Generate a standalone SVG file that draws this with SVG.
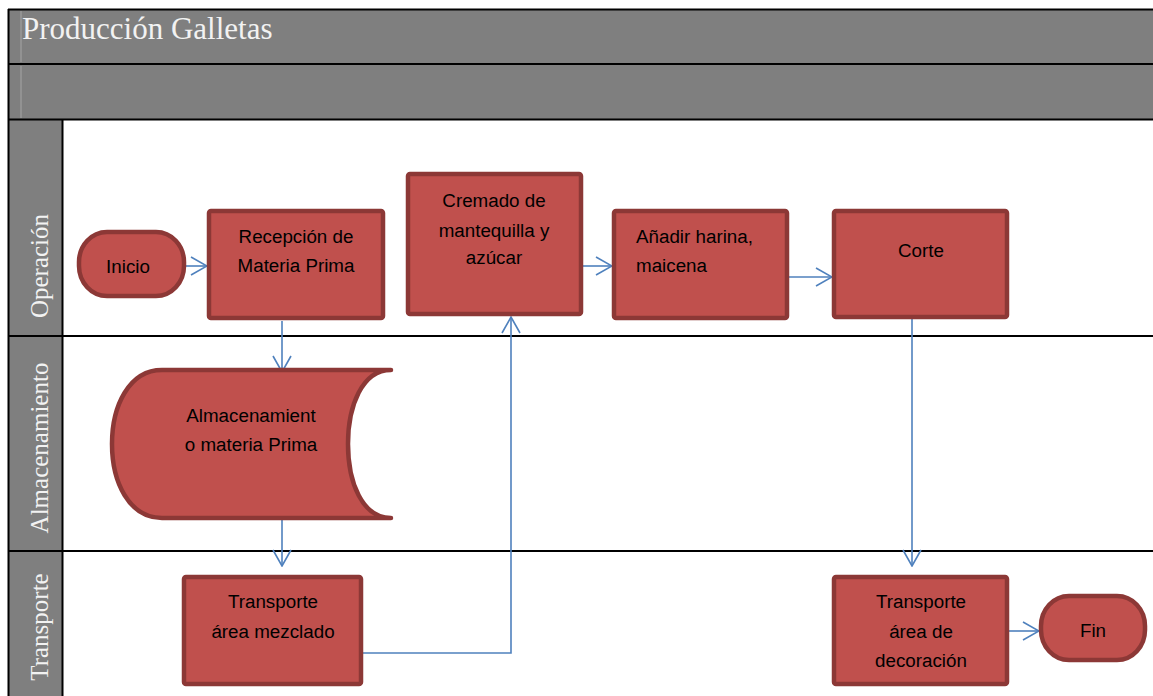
<svg xmlns="http://www.w3.org/2000/svg" width="1153" height="696" viewBox="0 0 1153 696">
  <style>
    .band { fill: #7f7f7f; }
    .rule { stroke: #000; stroke-width: 2; fill: none; }
    .faint { stroke: #a6a6a6; stroke-width: 1; }
    .title { font-family: "Liberation Serif", "Times New Roman", serif; font-size: 31px; fill: #f2f2f2; }
    .lane { font-family: "Liberation Serif", "Times New Roman", serif; font-size: 25px; fill: #f2f2f2; text-anchor: middle; }
    .shape { fill: #c0504d; stroke: #8c3836; stroke-width: 4.5; stroke-linejoin: round; }
    .label { font-family: "Liberation Sans", Arial, sans-serif; font-size: 18.8px; fill: #000; text-anchor: middle; }
    .left { text-anchor: start; }
    .flow { fill: none; stroke: #4f81bd; stroke-width: 1.6; marker-end: url(#arrow); }
  </style>
  <defs>
    <marker id="arrow" markerUnits="userSpaceOnUse" viewBox="0 0 18 20" markerWidth="18" markerHeight="20" refX="17" refY="10" orient="auto">
      <path d="M1,1 L17,10 L1,19" fill="none" stroke="#4f81bd" stroke-width="1.6"/>
    </marker>
  </defs>

  <rect width="1153" height="696" fill="#fff"/>

  <!-- pool header and lane label column -->
  <g id="pool">
    <rect class="band" x="8" y="9" width="1145" height="111"/>
    <rect class="band" x="8" y="120" width="55" height="576"/>
    <line class="faint" x1="21" y1="11" x2="21" y2="62"/>
    <line class="faint" x1="21" y1="66" x2="21" y2="118"/>
    <line class="rule" x1="8" y1="9.5" x2="1153" y2="9.5"/>
    <line class="rule" x1="8" y1="64" x2="1153" y2="64"/>
    <line class="rule" x1="8" y1="119.5" x2="1153" y2="119.5"/>
    <line class="rule" x1="8" y1="336" x2="1153" y2="336"/>
    <line class="rule" x1="8" y1="551" x2="1153" y2="551"/>
    <line class="rule" x1="8.5" y1="9" x2="8.5" y2="696"/>
    <line class="rule" x1="62.5" y1="119" x2="62.5" y2="696"/>
    <text class="title" x="22" y="39">Producción Galletas</text>
    <text class="lane" transform="translate(48,266) rotate(-90)">Operación</text>
    <text class="lane" transform="translate(48,448) rotate(-90)">Almacenamiento</text>
    <text class="lane" transform="translate(48,627) rotate(-90)">Transporte</text>
  </g>

  <!-- connectors -->
  <g id="connectors">
    <path class="flow" d="M186,266 H207"/>
    <path class="flow" d="M282,321 V372"/>
    <path class="flow" d="M282,519 V566"/>
    <path class="flow" d="M363,653 H511 V317"/>
    <path class="flow" d="M583,266 H612"/>
    <path class="flow" d="M789,277 H832"/>
    <path class="flow" d="M912,319 V566"/>
    <path class="flow" d="M1009,631 H1039"/>
  </g>

  <g id="inicio">
    <rect class="shape" x="79" y="232" width="105" height="64" rx="28" ry="30"/>
    <text class="label" x="128" y="273">Inicio</text>
  </g>

  <g id="recepcion">
    <rect class="shape" x="209" y="211" width="174" height="107" rx="2"/>
    <text class="label" x="296" y="243">Recepción de</text>
    <text class="label" x="296" y="272">Materia Prima</text>
  </g>

  <g id="cremado">
    <rect class="shape" x="408" y="174" width="173" height="140" rx="2"/>
    <text class="label" x="494" y="207">Cremado de</text>
    <text class="label" x="494" y="237">mantequilla y</text>
    <text class="label" x="494" y="264">azúcar</text>
  </g>

  <g id="anadir">
    <rect class="shape" x="614" y="211" width="173" height="107" rx="2"/>
    <text class="label left" x="636" y="243">Añadir harina,</text>
    <text class="label left" x="636" y="272">maicena</text>
  </g>

  <g id="corte">
    <rect class="shape" x="834" y="211" width="173" height="106" rx="2"/>
    <text class="label" x="921" y="257">Corte</text>
  </g>

  <g id="almacenamiento">
    <path class="shape" stroke-linecap="round" d="M391,370 L162,370 C129,370 112,406 112,444 C112,482 129,518 162,518 L391,518 C362,518 348,482 348,444 C348,406 362,370 391,370 Z"/>
    <text class="label" x="251" y="422">Almacenamient</text>
    <text class="label" x="251" y="451">o materia Prima</text>
  </g>

  <g id="transporte-mezclado">
    <rect class="shape" x="184" y="577" width="177" height="107" rx="2"/>
    <text class="label" x="273" y="608">Transporte</text>
    <text class="label" x="273" y="638">área mezclado</text>
  </g>

  <g id="transporte-decoracion">
    <rect class="shape" x="834" y="577" width="173" height="107" rx="2"/>
    <text class="label" x="921" y="608">Transporte</text>
    <text class="label" x="921" y="638">área de</text>
    <text class="label" x="921" y="667">decoración</text>
  </g>

  <g id="fin">
    <rect class="shape" x="1041" y="596" width="104" height="64" rx="28" ry="30"/>
    <text class="label" x="1093" y="637">Fin</text>
  </g>
</svg>
